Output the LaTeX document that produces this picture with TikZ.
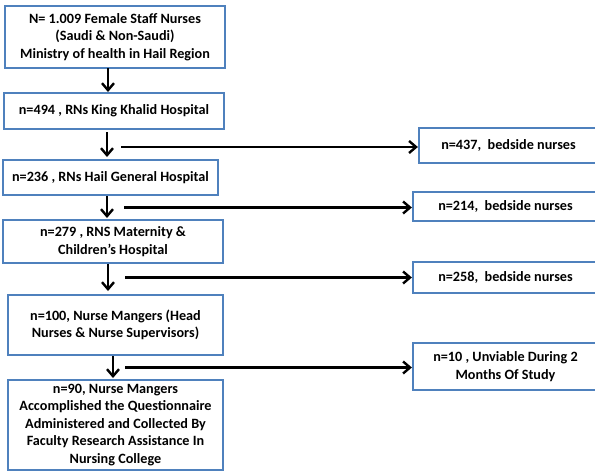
\documentclass[tikz,border=0pt]{standalone}
\usepackage{fontspec}
\setmainfont{Carlito}
\usetikzlibrary{arrows.meta}
\definecolor{boxblue}{RGB}{79,129,189}
\tikzset{
  box/.style={draw=boxblue, line width=2.2pt, fill=white, align=center, inner sep=2pt,
    font=\bfseries\fontsize{14.2}{17.5}\selectfont, text=black},
  flow/.style={draw=black, line width=2.4pt, -{Straight Barb[length=7pt,width=12pt,line width=2.4pt]}}
}
\begin{document}
\begin{tikzpicture}[x=1pt,y=-1pt]
\useasboundingbox (0,0) rectangle (595,472);
\begin{scope}
\clip (0,0) rectangle (595,472);
% left column
\node[box, minimum width=220pt, minimum height=62pt] (b1) at (115,37)
  {N= 1.009 Female Staff Nurses\\(Saudi \& Non-Saudi)\\Ministry of health in Hail Region};
\node[box, minimum width=220pt, minimum height=36pt] (b2) at (114,111)
  {n=494 , RNs King Khalid Hospital};
\node[box, minimum width=215pt, minimum height=35pt] (b3) at (110.5,177.5)
  {n=236 , RNs Hail General Hospital};
\node[box, minimum width=220pt, minimum height=43pt] (b4) at (113,241.5)
  {n=279 , RNS Maternity \&\\Children's Hospital};
\node[box, minimum width=215pt, minimum height=60pt] (b5) at (115.5,325)
  {n=100, Nurse Mangers (Head\\Nurses \& Nurse Supervisors)};
\node[box, minimum width=215pt, minimum height=90pt] (b6) at (115.5,425)
  {n=90, Nurse Mangers\\Accomplished the Questionnaire\\Administered and Collected By\\Faculty Research Assistance In\\Nursing College};
% right column
\node[box, minimum width=179pt, minimum height=35pt] (r1) at (508.5,145.5)
  {n=437,\ \ bedside nurses};
\node[box, minimum width=185pt, minimum height=29pt] (r2) at (505.5,206.5)
  {n=214,\ \ bedside nurses};
\node[box, minimum width=185pt, minimum height=31pt] (r3) at (505.5,277.5)
  {n=258,\ \ bedside nurses};
\node[box, minimum width=185pt, minimum height=47pt] (r4) at (505.5,366.5)
  {n=10 , Unviable During 2\\Months Of Study};
% vertical arrows
\draw[flow] (108,68) -- (108,92);
\draw[flow] (107,132) -- (107,157);
\draw[flow] (107,196) -- (107,218);
\draw[flow] (108,264) -- (108,291);
\draw[flow] (113,356) -- (113,378);
% horizontal arrows
\coordinate (h1) at (121,147);
\coordinate (h2) at (124,207.5);
\coordinate (h3) at (125,277.5);
\coordinate (h4) at (125,367.5);
\draw[flow] (h1) -- (h1 -| r1.west);
\draw[flow] (h2) -- (h2 -| r2.west);
\draw[flow] (h3) -- (h3 -| r3.west);
\draw[flow] (h4) -- (h4 -| r4.west);
\end{scope}
\end{tikzpicture}
\end{document}
